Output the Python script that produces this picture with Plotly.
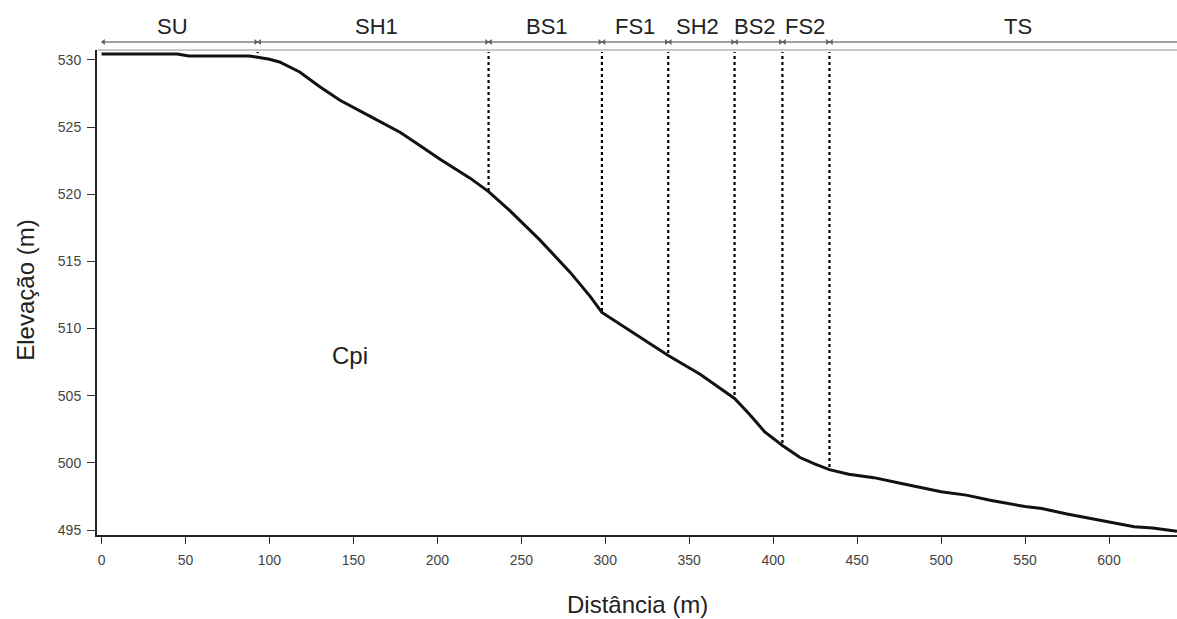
import numpy as np
import plotly.graph_objects as go

# ---- data ----
dist = [0, 45, 52, 88, 93, 100, 106, 118, 130, 142, 160, 178, 190, 201.6, 219.5,
        230.5, 243, 261, 279, 291, 298, 309, 321, 337.5, 356.5, 377, 386, 395,
        405.5, 416, 425, 433.5, 445, 460, 475, 490, 500, 515, 530, 550, 560, 575,
        595, 605, 615, 626, 640.5]
elev = [530.45, 530.45, 530.3, 530.3, 530.2, 530.05, 529.85, 529.1, 528.0, 527.0,
        525.8, 524.6, 523.6, 522.6, 521.2, 520.2, 518.8, 516.6, 514.2, 512.4, 511.2,
        510.3, 509.3, 508.0, 506.6, 504.8, 503.6, 502.3, 501.3, 500.4, 499.9, 499.5,
        499.15, 498.9, 498.5, 498.1, 497.85, 497.6, 497.2, 496.75, 496.6, 496.2,
        495.75, 495.5, 495.25, 495.15, 494.9]

sections = ["SU", "SH1", "BS1", "FS1", "SH2", "BS2", "FS2", "TS"]
section_edges = [0, 93, 230.5, 298, 337.5, 377, 405.5, 433.5, 660]
label_x = [42.5, 164, 265, 318, 355, 389, 419, 546]

x_ticks = list(range(0, 601, 50))
y_ticks = list(range(495, 531, 5))

X_RANGE = [-2.7, 640.5]
Y_RANGE = [494.63, 530.74]

FONT = "Liberation Sans, Arial, sans-serif"

fig = go.Figure()

# vertical dotted boundary lines (top of plot down to profile)
bounds = section_edges[1:-1]
bound_elev = np.interp(bounds, dist, elev)
for b, e in zip(bounds, bound_elev):
    fig.add_trace(go.Scatter(x=[b, b], y=[Y_RANGE[1], e], mode="lines",
                             line=dict(color="black", width=2.2, dash="dot"),
                             showlegend=False, hoverinfo="skip"))

# profile
fig.add_trace(go.Scatter(x=dist, y=elev, mode="lines",
                         line=dict(color="#111111", width=3),
                         showlegend=False))

# top strip: gray lines and arrowheads
fig.add_trace(go.Scatter(x=[X_RANGE[0], X_RANGE[1]], y=[2, 2], mode="lines",
                         line=dict(color="#c8c8c8", width=2),
                         xaxis="x", yaxis="y2", showlegend=False, hoverinfo="skip"))
fig.add_trace(go.Scatter(x=[0, X_RANGE[1]], y=[10, 10], mode="lines",
                         line=dict(color="#808080", width=1.5),
                         xaxis="x", yaxis="y2", showlegend=False, hoverinfo="skip"))
left_heads = [a + 1.2 for a in section_edges[:-1]]
right_heads = [b - 1.2 for b in section_edges[1:-1]]
fig.add_trace(go.Scatter(x=left_heads, y=[10] * len(left_heads), mode="markers",
                         marker=dict(symbol="triangle-left", size=5, color="#606060"),
                         xaxis="x", yaxis="y2", showlegend=False, hoverinfo="skip"))
fig.add_trace(go.Scatter(x=right_heads, y=[10] * len(right_heads), mode="markers",
                         marker=dict(symbol="triangle-right", size=5, color="#606060"),
                         xaxis="x", yaxis="y2", showlegend=False, hoverinfo="skip"))

annotations = []
for name, lx in zip(sections, label_x):
    annotations.append(dict(x=lx, y=1.006, xref="x", yref="paper", text=name,
                            showarrow=False, font=dict(family=FONT, size=22, color="#222"),
                            xanchor="center", yanchor="middle"))
annotations.append(dict(x=148, y=508.0, xref="x", yref="y", text="Cpi", showarrow=False,
                        font=dict(family=FONT, size=24, color="#222")))
annotations.append(dict(x=0.5, y=-0.137, xref="paper", yref="paper", text="Distância (m)",
                        showarrow=False, font=dict(family=FONT, size=24, color="#222"),
                        xanchor="center", yanchor="middle"))
annotations.append(dict(x=-0.067, y=0.485, xref="paper", yref="paper", text="Elevação (m)",
                        showarrow=False, textangle=-90,
                        font=dict(family=FONT, size=24, color="#222"),
                        xanchor="center", yanchor="middle"))

fig.update_layout(
    width=1177, height=619,
    margin=dict(l=97, r=0, t=30, b=84),
    paper_bgcolor="white", plot_bgcolor="white",
    font=dict(family=FONT, color="#444"),
    xaxis=dict(range=X_RANGE, tickvals=x_ticks, ticks="outside", ticklen=7,
               tickwidth=1.2, tickcolor="#333", showgrid=False, zeroline=False,
               showline=True, linecolor="#222", linewidth=2, ticklabelstandoff=4,
               tickfont=dict(size=14, color="#444"), anchor="y"),
    yaxis=dict(range=Y_RANGE, tickvals=y_ticks, ticks="outside", ticklen=8,
               tickwidth=1.2, tickcolor="#333", showgrid=False, zeroline=False,
               showline=True, linecolor="#222", linewidth=2, ticklabelstandoff=3,
               tickfont=dict(size=14, color="#444"), domain=[0, 485 / 505]),
    yaxis2=dict(range=[0, 22], domain=[483 / 505, 1.0], visible=False,
                showgrid=False, zeroline=False, anchor="x"),
    annotations=annotations,
)

fig.write_html("out.html")
